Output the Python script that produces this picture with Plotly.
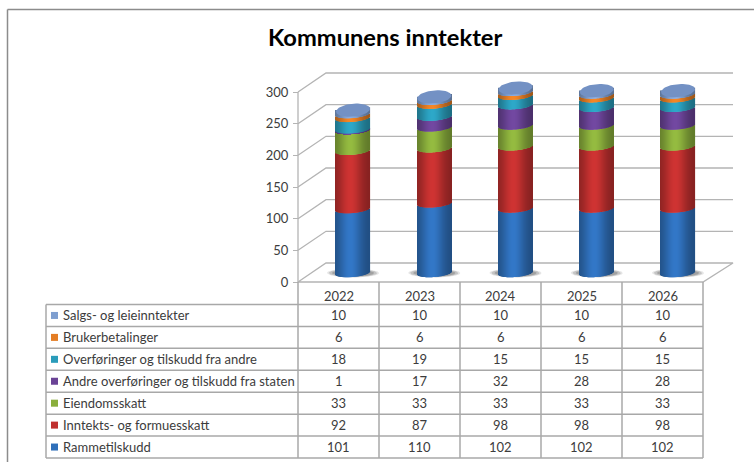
import numpy as np
import plotly.graph_objects as go

years = ["2022", "2023", "2024", "2025", "2026"]
series_names = ["Rammetilskudd", "Inntekts- og formuesskatt", "Eiendomsskatt",
                "Andre overføringer og tilskudd fra staten",
                "Overføringer og tilskudd fra andre", "Brukerbetalinger",
                "Salgs- og leieinntekter"]
rammetilskudd = [101, 110, 102, 102, 102]
inntektsskatt = [92, 87, 98, 98, 98]
eiendomsskatt = [33, 33, 33, 33, 33]
andre_staten = [1, 17, 32, 28, 28]
andre_tilskudd = [18, 19, 15, 15, 15]
brukerbetalinger = [6, 6, 6, 6, 6]
salg_leie = [10, 10, 10, 10, 10]
series_values = [rammetilskudd, inntektsskatt, eiendomsskatt, andre_staten,
                 andre_tilskudd, brukerbetalinger, salg_leie]
series_colors = ["#2f6fb9", "#c0302f", "#8aae3c", "#6a4396", "#2a9cba", "#e47d24", "#7f9fd0"]
y_ticks = [0, 50, 100, 150, 200, 250, 300]

W, H = 754, 462
GRID = "#b4b4b4"
TEXT = "#3c3c3c"
FONT = "Lato"

# pixel geometry
Y0_PX, PX_PER_UNIT = 282, 190 / 300
BASE_PX, BAR_PX_PER_UNIT = 277, 190 / 300
CX0, CX_STEP, R = 353, 81.25, 17
ELL_B, CAP_B, SLANT = 4.0, 6.5, 1.4
AX_L, AX_R, DX, DY_UNITS = 298, 703, 28, 30
N = 34


def py(px):
    return (Y0_PX - px) / PX_PER_UNIT


def shade(hex_color, t):
    rgb = np.array([int(hex_color[i:i + 2], 16) for i in (1, 3, 5)], float)
    f = 0.68 + 0.40 * np.exp(-((t + 0.1) / 0.68) ** 2)
    rgb = np.clip(rgb * f, 0, 255).astype(int)
    return f"rgb({rgb[0]},{rgb[1]},{rgb[2]})"


fig = go.Figure()

# walls and floor grid, from the tick values
for v in y_ticks[1:]:
    fig.add_trace(go.Scatter(x=[AX_L, AX_L + DX, AX_R + DX + 2], y=[v, v + DY_UNITS, v + DY_UNITS],
                             mode="lines", line=dict(color=GRID, width=1.3), hoverinfo="skip"))
fig.add_trace(go.Scatter(x=[AX_L, AX_L + DX, AX_R + DX + 2, AX_R, AX_L], y=[0, DY_UNITS, DY_UNITS, 0, 0],
                         mode="lines", line=dict(color=GRID, width=1.3), hoverinfo="skip"))
fig.add_trace(go.Scatter(x=[AX_L, AX_L], y=[0, 300], mode="lines",
                         line=dict(color=GRID, width=1.3), hoverinfo="skip"))

# shadows under the cylinders (on the lower axis, so they stay behind the bars)
for i in range(len(years)):
    th = np.linspace(0, 2 * np.pi, 60)
    cx = CX0 + CX_STEP * i
    for k, a in ((26, .18), (24, .28), (21, .4)):
        fig.add_trace(go.Scatter(x=cx + k * np.cos(th), y=py(273 + k / 26 * 4.5 * np.sin(th)),
                                 mode="lines", fill="toself", line=dict(width=0),
                                 fillcolor=f"rgba(110,110,110,{a})", hoverinfo="skip"))

# cylinders: each segment is a set of thin shaded bars
ts = (np.arange(N) + 0.5) / N * 2 - 1
sw = 2 * R / N
cum = np.zeros(len(years))
for vals, col, name in zip(series_values, series_colors, series_names):
    xs, base, ys, cols = [], [], [], []
    for i, v in enumerate(vals):
        for t in ts:
            xs.append(CX0 + CX_STEP * i + t * R)
            off = (ELL_B * (1 - np.sqrt(1 - t * t)) + SLANT * t) / BAR_PX_PER_UNIT
            base.append(cum[i] + off)
            ys.append(v)
            cols.append(shade(col, t))
    fig.add_trace(go.Bar(x=xs, y=ys, base=base, width=sw + 0.2, yaxis="y2", name=name,
                         marker=dict(color=cols, line=dict(width=0)), hoverinfo="skip"))
    cum = cum + np.array(vals)

# top caps
for i in range(len(years)):
    th = np.linspace(0, 2 * np.pi, 60)
    t = np.cos(th)
    fig.add_trace(go.Scatter(x=CX0 + CX_STEP * i + R * t,
                             y=cum[i] + (1.5 + CAP_B * np.sin(th) + SLANT * t) / BAR_PX_PER_UNIT,
                             yaxis="y2", mode="lines", fill="toself", line=dict(width=0),
                             fillcolor="#7391c4", hoverinfo="skip"))

# table rules
shapes = []
row_px = [304.5 + (458 - 304.5) / 7 * k for k in range(8)]
col_px = [AX_L + 81 * k for k in range(6)]
rule = dict(color="#a8a8a8", width=1.5)
for y in row_px:
    shapes.append(dict(type="line", xref="x", yref="y", x0=46, x1=AX_R, y0=py(y), y1=py(y), line=rule))
for x in col_px:
    shapes.append(dict(type="line", xref="x", yref="y", x0=x, x1=x, y0=0, y1=py(458), line=rule))
shapes.append(dict(type="line", xref="x", yref="y", x0=46, x1=46, y0=py(304.5), y1=py(458), line=rule))
frame = dict(color="#8c8c8c", width=1.5)
shapes.append(dict(type="line", xref="x", yref="y", x0=7.5, x1=W, y0=py(9.5), y1=py(9.5), line=frame))
shapes.append(dict(type="line", xref="x", yref="y", x0=7.5, x1=7.5, y0=py(9.5), y1=py(H), line=frame))

# table text
ann = []
for i, yr in enumerate(years):
    ann.append(dict(x=(col_px[i] + col_px[i + 1]) / 2, y=py(296), text=yr))
rows = list(zip(series_names, series_values, series_colors))[::-1]
key_x, key_y, key_c = [], [], []
for r, (name, vals, col) in enumerate(rows):
    yc = py((row_px[r] + row_px[r + 1]) / 2)
    ann.append(dict(x=60.5, y=yc, text=name, xanchor="left"))
    key_x.append(54.5)
    key_y.append(yc)
    key_c.append(col)
    for i, v in enumerate(vals):
        ann.append(dict(x=(col_px[i] + col_px[i + 1]) / 2, y=yc, text=str(v)))
for a in ann:
    a.update(xref="x", yref="y", showarrow=False, font=dict(family=FONT, size=13, color=TEXT))
fig.add_trace(go.Scatter(x=key_x, y=key_y, mode="markers", hoverinfo="skip",
                         marker=dict(symbol="square", size=7, color=key_c, line=dict(width=0))))
ann.append(dict(x=385, y=py(37), xref="x", yref="y", text="<b>Kommunens inntekter</b>", showarrow=False,
                font=dict(family=FONT, size=23.7, color="#000000")))

fig.update_layout(
    width=W, height=H, margin=dict(l=0, r=0, t=0, b=0), showlegend=False, barmode="overlay",
    paper_bgcolor="white", plot_bgcolor="white", shapes=shapes, annotations=ann,
    xaxis=dict(range=[0, W], visible=False, fixedrange=True),
    yaxis=dict(range=[py(H), py(0)], anchor="free", position=AX_L / W, side="left", showgrid=False,
               zeroline=False, showline=False, tickvals=y_ticks, ticks="outside", ticklen=5, tickwidth=1.3,
               tickcolor=GRID, ticklabelstandoff=2, tickfont=dict(family=FONT, size=13, color=TEXT),
               fixedrange=True),
    yaxis2=dict(range=[-(H - BASE_PX) / BAR_PX_PER_UNIT, BASE_PX / BAR_PX_PER_UNIT], overlaying="y",
                visible=False, fixedrange=True),
)
fig.write_html("out.html", config={"displayModeBar": False},
               post_script="document.body.style.margin='0';document.documentElement.style.overflow='hidden';")
